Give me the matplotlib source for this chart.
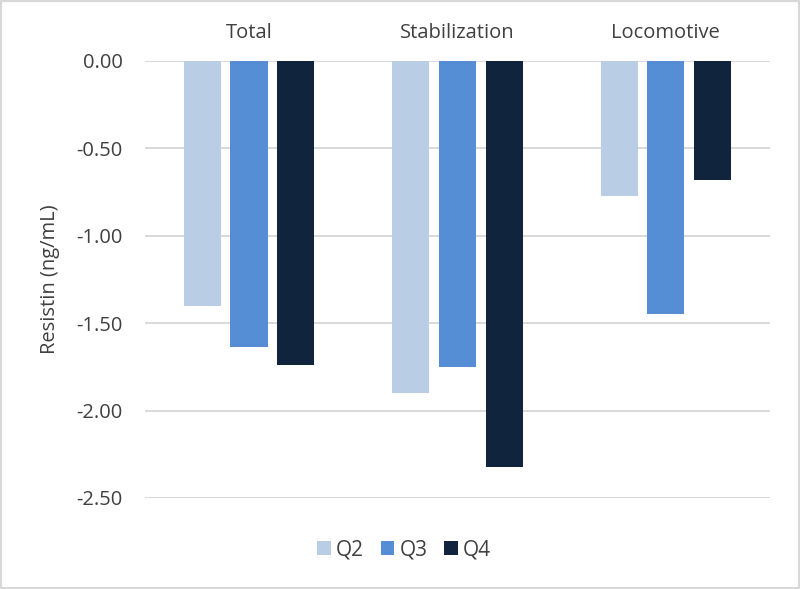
import numpy as np
import matplotlib.pyplot as plt
from matplotlib.patches import Rectangle

categories = ['Total', 'Stabilization', 'Locomotive']
series_names = ['Q2', 'Q3', 'Q4']
q2 = [-1.40, -1.90, -0.775]
q3 = [-1.635, -1.75, -1.45]
q4 = [-1.74, -2.32, -0.68]
yticks = [0.0, -0.5, -1.0, -1.5, -2.0, -2.5]

colors = ['#b9cde5', '#558ed5', '#10243e']
text_color = '#404040'

plt.rcParams['font.family'] = ['Open Sans', 'DejaVu Sans']

fig = plt.figure(figsize=(8, 5.89), dpi=100)
ax = fig.add_axes([0.181, 0.1545, 0.7815, 0.742])

x = np.arange(len(categories))
width = 0.178
offset = 0.224
for i, (vals, name) in enumerate(zip([q2, q3, q4], series_names)):
    ax.bar(x + (i - 1) * offset, vals, width, color=colors[i], label=name, zorder=3)

ax.set_xlim(-0.5, 2.5)
ax.set_ylim(-2.5, 0)
ax.set_yticks(yticks)
ax.set_yticklabels([f'{v:.2f}' for v in yticks])
ax.yaxis.grid(True, color='#d9d9d9', linewidth=1.4, zorder=0)
ax.set_axisbelow(True)
for s in ax.spines.values():
    s.set_visible(False)

ax.xaxis.tick_top()
ax.set_xticks(x)
ax.set_xticklabels(categories)
ax.tick_params(axis='x', length=0, pad=13, labelsize=14.5, labelcolor=text_color)
ax.tick_params(axis='y', length=0, pad=16, labelsize=14.5, labelcolor=text_color)
ax.set_ylabel('Resistin (ng/mL)', fontsize=14.5, color=text_color)
ax.yaxis.set_label_coords(-0.136, 0.5)

fig.legend(loc='center', bbox_to_anchor=(0.505, 0.066), ncol=3, frameon=False,
           fontsize=15, labelcolor=text_color, handlelength=0.65, handleheight=0.65,
           handletextpad=0.25, columnspacing=0.8)

fig.patches.append(Rectangle((0, 0), 1, 1, transform=fig.transFigure, fill=False,
                             edgecolor='#d9d9d9', linewidth=3, zorder=10))

fig.savefig('out.png', dpi=100)
